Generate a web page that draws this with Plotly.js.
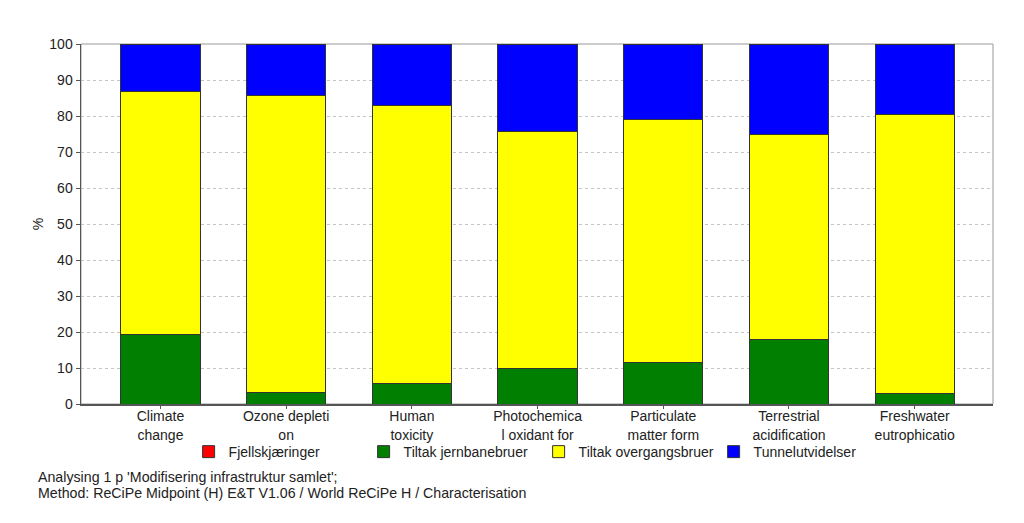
<!DOCTYPE html>
<html>
<head>
<meta charset="utf-8">
<script src="https://cdn.plot.ly/plotly-3.0.1.min.js"></script>
<style>html,body{margin:0;padding:0;background:#fff;}#chart{width:1024px;height:523px;}</style>
</head>
<body>
<div id="chart"></div>
<script>
const categories = ["Climate<br>change", "Ozone depleti<br>on", "Human<br>toxicity", "Photochemica<br>l oxidant for", "Particulate<br>matter form", "Terrestrial<br>acidification", "Freshwater<br>eutrophicatio"];
const seriesNames = ["Fjellskjæringer", "Tiltak jernbanebruer", "Tiltak overgangsbruer", "Tunnelutvidelser"];
const fjellskjaeringer = [0, 0, 0, 0, 0, 0, 0];
const jernbanebruer = [19.2, 3.1, 5.8, 9.8, 11.5, 17.9, 2.9];
const overgangsbruer = [67.7, 82.7, 77.2, 66.0, 67.6, 57.0, 77.6];
const tunnelutvidelser = [13.1, 14.2, 17.0, 24.2, 20.9, 25.1, 19.5];
const yTicks = [0, 10, 20, 30, 40, 50, 60, 70, 80, 90, 100];
const footerLines = ["Analysing 1 p 'Modifisering infrastruktur samlet';", "Method: ReCiPe Midpoint (H) E&T V1.06 / World ReCiPe H / Characterisation"];

const colors = ["#ff0000", "#007f00", "#ffff00", "#0000ff"];
const values = [fjellskjaeringer, jernbanebruer, overgangsbruer, tunnelutvidelser];
const FONT = "Liberation Sans, Arial, sans-serif";

const traces = values.map((v, i) => ({
  type: "bar",
  name: seriesNames[i],
  x: categories,
  y: v,
  marker: {color: colors[i], line: {color: "#333333", width: 1}},
  hoverinfo: "name+y"
}));

const layout = {
  width: 1024, height: 523,
  margin: {l: 81, r: 31, t: 44, b: 119},
  paper_bgcolor: "#ffffff",
  plot_bgcolor: "#ffffff",
  barmode: "stack",
  bargap: 0.37,
  font: {family: FONT, size: 14, color: "#222"},
  showlegend: true,
  legend: {
    orientation: "h", x: 0.118, xanchor: "left", y: -0.089, yanchor: "top",
    entrywidth: 130, entrywidthmode: "pixels", traceorder: "normal",
    bgcolor: "rgba(0,0,0,0)",
    font: {family: FONT, size: 14, color: "#222"},
    itemwidth: 30, tracegroupgap: 0
  },
  xaxis: {
    type: "category",
    range: [-0.632, 6.623],
    showline: true, linecolor: "#555", linewidth: 1.5,
    ticks: "outside", ticklen: 3, tickcolor: "#555",
    ticklabelstandoff: -4,
    showgrid: false, zeroline: false,
    tickfont: {family: FONT, size: 14, color: "#222"}
  },
  yaxis: {
    range: [0, 100],
    tickvals: yTicks,
    showline: true, linecolor: "#555", linewidth: 1.5,
    ticks: "outside", ticklen: 4, tickcolor: "#555",
    showgrid: true, gridcolor: "#c4c4c4", griddash: "dot", gridwidth: 1,
    zeroline: false,
    tickfont: {family: FONT, size: 14, color: "#222"},
    title: {text: "%", standoff: 2, font: {family: FONT, size: 14, color: "#222"}}
  },
  shapes: [
    {type: "rect", xref: "paper", yref: "paper", x0: 0, x1: 1, y0: 0, y1: 1,
     line: {color: "#999", width: 1}, layer: "below"}
  ],
  annotations: footerLines.map((t, i) => ({
    text: t, xref: "paper", yref: "paper",
    x: (36 - 81) / 912, xanchor: "left",
    y: -(477 + i * 16 - 404) / 359, yanchor: "middle",
    showarrow: false, align: "left",
    font: {family: FONT, size: 14.2, color: "#222"}
  }))
};

Plotly.newPlot("chart", traces, layout, {displayModeBar: false, staticPlot: true});
</script>
</body>
</html>
